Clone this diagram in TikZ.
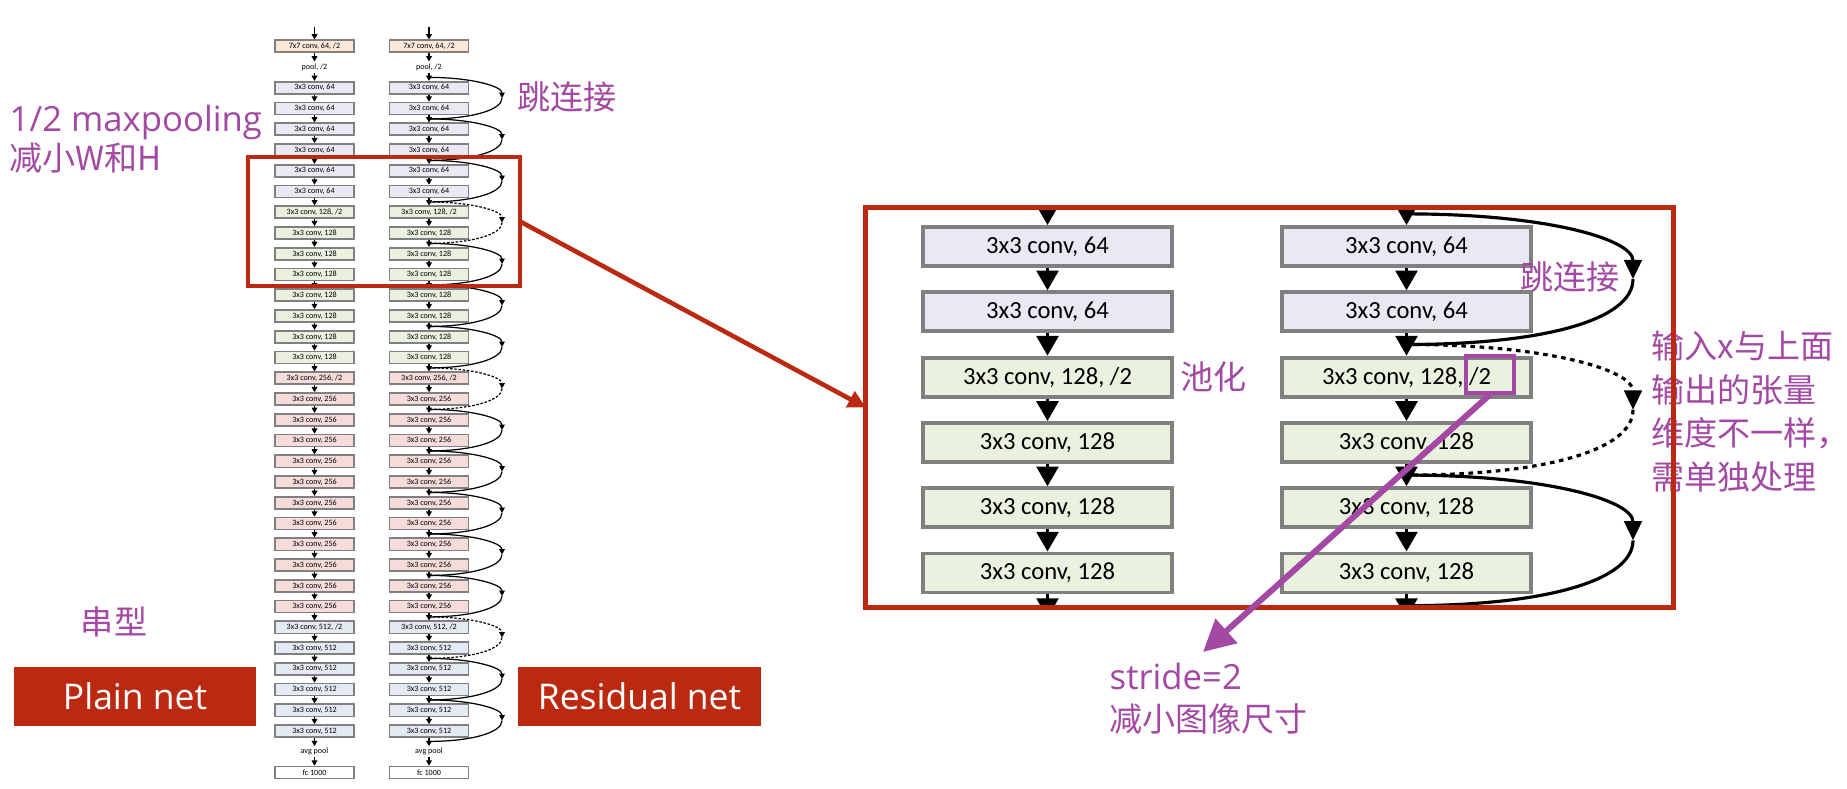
\documentclass[tikz,border=0pt]{standalone}
\usepackage{fontspec}
\setmainfont{Carlito}
\newfontfamily\cjk{Noto Sans CJK SC}
\newfontfamily\latin[Scale=1.05]{Open Sans}
\usetikzlibrary{arrows.meta,positioning}

\definecolor{netred}{RGB}{186,41,16}
\definecolor{annopurple}{RGB}{163,73,164}
\definecolor{boxgray}{RGB}{128,128,128}
\definecolor{c77}{RGB}{252,232,216}
\definecolor{c64}{RGB}{234,232,242}
\definecolor{c128}{RGB}{234,241,222}
\definecolor{c256}{RGB}{245,220,218}
\definecolor{c512}{RGB}{228,234,244}

\begin{document}
\begin{tikzpicture}[x=0.01cm, y=-0.01cm,
  blk/.style={draw=boxgray, line width=0.45pt, minimum width=0.79cm, minimum height=0.12cm, inner sep=0pt, font=\fontsize{2.3}{2.6}\selectfont},
  poolnote/.style={inner sep=0.4pt, font=\fontsize{2.3}{2.6}\selectfont},
  flow/.style={-{Triangle[length=1.5pt,width=1.6pt]}, line width=0.35pt},
  hop/.style={line width=0.35pt},
  hopdash/.style={dash pattern=on 0.7pt off 0.5pt},
  bigblk/.style={draw=boxgray, line width=1.1pt, minimum width=2.49cm, minimum height=0.39cm, inner sep=0pt, font=\fontsize{7}{8}\selectfont},
  bigflow/.style={-{Triangle[length=5.6pt,width=6.2pt]}, line width=0.9pt},
  bighop/.style={line width=0.9pt},
  bigdash/.style={dash pattern=on 1.3pt off 1.3pt},
  anno/.style={text=annopurple, inner sep=0pt, font=\cjk\fontsize{9.4}{12.4}\selectfont},
  tag/.style={fill=netred, text=white, inner sep=0pt, minimum width=2.42cm, minimum height=0.59cm, font=\latin\fontsize{9.6}{11}\selectfont}]
\useasboundingbox (0,0) rectangle (1847,789);

% plain net and residual net
\foreach \col/\cx in {p/314.5, r/429} {
  \coordinate (\col top) at (\cx,27);
  \node[blk, fill=c77] (\col0) at (\cx,46.3) {7x7 conv, 64, /2};
  \node[poolnote] (\col1) at (\cx,67.05) {pool, /2};
  \foreach \i in {2,...,7}
    \node[blk, fill=c64] (\col\i) at (\cx,46.3+20.75*\i) {3x3 conv, 64};
  \node[blk, fill=c128] (\col8) at (\cx,46.3+20.75*8) {3x3 conv, 128, /2};
  \foreach \i in {9,...,15}
    \node[blk, fill=c128] (\col\i) at (\cx,46.3+20.75*\i) {3x3 conv, 128};
  \node[blk, fill=c256] (\col16) at (\cx,46.3+20.75*16) {3x3 conv, 256, /2};
  \foreach \i in {17,...,27}
    \node[blk, fill=c256] (\col\i) at (\cx,46.3+20.75*\i) {3x3 conv, 256};
  \node[blk, fill=c512] (\col28) at (\cx,46.3+20.75*28) {3x3 conv, 512, /2};
  \foreach \i in {29,...,33}
    \node[blk, fill=c512] (\col\i) at (\cx,46.3+20.75*\i) {3x3 conv, 512};
  \node[poolnote] (\col34) at (\cx,46.3+20.75*34) {avg pool};
  \node[blk, fill=white] (\col35) at (\cx,46.3+20.75*35) {fc 1000};
  \draw[flow] (\col top) -- (\col0);
  \foreach \i [evaluate=\i as \j using int(\i+1)] in {0,...,34}
    \draw[flow] (\col\i) -- (\col\j);
}
\foreach \s/\dsh in {2/solid,4/solid,6/solid,8/hopdash,10/solid,12/solid,14/solid,16/hopdash,18/solid,20/solid,22/solid,24/solid,26/solid,28/hopdash,30/solid,32/solid} {
  \coordinate (ja\s) at (429,46.3+20.75*\s-10.375);
  \coordinate (jx\s) at (502,46.3+20.75*\s+10.375);
  \coordinate (jb\s) at (429,46.3+20.75*\s+31.125);
  \draw[hop, \dsh, -{Triangle[length=1.6pt,width=1.6pt]}] (ja\s) .. controls +(42,0) and +(0,-12) .. (jx\s);
  \draw[hop, \dsh] (jx\s) .. controls +(0,12) and +(42,0) .. (jb\s);
}
\node[draw=netred, line width=1.3pt, outer sep=0pt, minimum width=2.72cm, minimum height=1.29cm, inner sep=0pt] (zoomsrc) at (384,221.5) {};

% enlarged part
\foreach \col/\cx in {L/1047.5, R/1406.5} {
  \node[bigblk, fill=c64] (\col1) at (\cx,246.5) {3x3 conv, 64};
  \node[bigblk, fill=c64] (\col2) at (\cx,311.8) {3x3 conv, 64};
  \node[bigblk, fill=c128] (\col3) at (\cx,377.1) {3x3 conv, 128, /2};
  \node[bigblk, fill=c128] (\col4) at (\cx,442.4) {3x3 conv, 128};
  \node[bigblk, fill=c128] (\col5) at (\cx,507.7) {3x3 conv, 128};
  \node[bigblk, fill=c128] (\col6) at (\cx,573) {3x3 conv, 128};
  \coordinate (\col in) at (\cx,190);
  \coordinate (\col out) at (\cx,618);
  \foreach \i [evaluate=\i as \j using int(\i+1)] in {1,...,5}
    \draw[bigflow] (\col\i) -- (\col\j);
  \begin{scope}
    \clip (866,208) rectangle (1673,607);
    \draw[bigflow] (\col in) -- (\col1);
    \draw[bigflow] (\col6) -- (\col out);
  \end{scope}
}
\coordinate (k0) at (1406.5,213.9);
\coordinate (k1) at (1406.5,344.5);
\coordinate (k2) at (1406.5,475.1);
\coordinate (k3) at (1406.5,605.7);
\coordinate (kx0) at (1633,279.2);
\coordinate (kx1) at (1633,409.8);
\coordinate (kx2) at (1633,540.4);
\draw[bighop, -{Triangle[length=5.5pt,width=5pt]}] (k0) .. controls +(140,0) and +(0,-40) .. (kx0);
\draw[bighop] (kx0) .. controls +(0,40) and +(140,0) .. (k1);
\draw[bighop, bigdash, -{Triangle[length=5.5pt,width=5pt]}] (k1) .. controls +(140,0) and +(0,-40) .. (kx1);
\draw[bighop, bigdash] (kx1) .. controls +(0,40) and +(140,0) .. (k2);
\draw[bighop, -{Triangle[length=5.5pt,width=5pt]}] (k2) .. controls +(140,0) and +(0,-40) .. (kx2);
\draw[bighop] (kx2) .. controls +(0,40) and +(140,0) .. (k3);

% notes
\node[anno] (skipa) at (567,97) {跳连接};
\node[anno, align=left, anchor=north west, font=\cjk\fontsize{9.4}{11.1}\selectfont] (mpnote) at (9,104) {{\latin 1/2 maxpooling}\\减小W和H};
\node[anno] (serial) at (114,622) {串型};
\node[tag] (plain) at (135,696.5) {Plain net};
\node[tag] (resid) at (639.5,696.5) {Residual net};
\node[anno, right=0.06cm of L3] (poolcn) {池化};
\node[anno] (skipb) at (1570,277) {跳连接};
\node[anno, align=left, anchor=north west] (dimnote) at (1651,330) {输入x与上面\\输出的张量\\维度不一样，\\需单独处理};
\node[anno, align=left, anchor=north west, font=\cjk\fontsize{9.4}{12.2}\selectfont] (stride) at (1109,662) {{\latin stride=2}\\减小图像尺寸};

\node[draw=netred, line width=1.4pt, outer sep=0pt, minimum width=8.07cm, minimum height=3.99cm, inner sep=0pt] (zoomdst) at (1269.5,407.5) {};
\draw[netred, line width=1.3pt, -{Triangle[length=5pt,width=5pt]}] (zoomsrc.east) -- (zoomdst.west);

\node[draw=annopurple, line width=0.9pt, minimum width=0.48cm, minimum height=0.37cm, inner sep=0pt] (halfmark) at (1490,374.5) {};
\coordinate (stridetip) at (1203,652);
\draw[annopurple, line width=1.7pt, -{Triangle[length=9pt,width=9pt]}] (halfmark.south) -- (stridetip);
\end{tikzpicture}
\end{document}
